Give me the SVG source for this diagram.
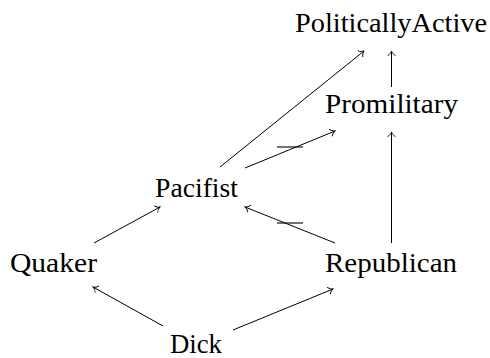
<svg xmlns="http://www.w3.org/2000/svg" width="490" height="358" viewBox="0 0 490 358">
  <style>
    .lbl { font-family: "Liberation Serif", "DejaVu Serif", serif; font-size: 26.5px; fill: #000; }
    .edge { stroke: #000; stroke-width: 1; fill: none; marker-end: url(#to); }
    .bar { stroke: #000; stroke-width: 1.1; fill: none; }
  </style>
  <defs>
    <marker id="to" markerUnits="userSpaceOnUse" markerWidth="12" markerHeight="12" viewBox="-6 -6 12 12" refX="0" refY="0" orient="auto">
      <path d="M-4.5,-3.6 C-3.4,-1.6 -1.3,-0.4 0,0 C-1.3,0.4 -3.4,1.6 -4.5,3.6" stroke="#000" stroke-width="0.9" fill="none" stroke-linecap="round"/>
    </marker>
  </defs>

  <g id="connectors">
    <line class="edge" x1="220" y1="167" x2="364" y2="51"/>
    <line class="edge" x1="391.5" y1="87" x2="391.5" y2="51"/>
    <line class="edge" x1="245" y1="168" x2="335" y2="131"/>
    <line class="edge" x1="391.5" y1="243" x2="391.5" y2="132"/>
    <line class="edge" x1="335" y1="243" x2="245" y2="207"/>
    <line class="edge" x1="94" y1="243" x2="160" y2="207"/>
    <line class="edge" x1="163" y1="326" x2="93" y2="287"/>
    <line class="edge" x1="233" y1="330" x2="333" y2="289"/>
    <line class="bar" x1="277" y1="147" x2="303" y2="147"/>
    <line class="bar" x1="277" y1="223" x2="303" y2="223"/>
  </g>

  <g id="PoliticallyActive"><text class="lbl" x="295" y="32" textLength="192" lengthAdjust="spacingAndGlyphs">PoliticallyActive</text></g>
  <g id="Promilitary"><text class="lbl" x="325" y="113" textLength="133" lengthAdjust="spacingAndGlyphs">Promilitary</text></g>
  <g id="Pacifist"><text class="lbl" x="155" y="197" textLength="83" lengthAdjust="spacingAndGlyphs">Pacifist</text></g>
  <g id="Quaker"><text class="lbl" x="10" y="272" textLength="87" lengthAdjust="spacingAndGlyphs">Quaker</text></g>
  <g id="Republican"><text class="lbl" x="325" y="272" textLength="132" lengthAdjust="spacingAndGlyphs">Republican</text></g>
  <g id="Dick"><text class="lbl" x="170" y="353" textLength="52" lengthAdjust="spacingAndGlyphs">Dick</text></g>
</svg>
